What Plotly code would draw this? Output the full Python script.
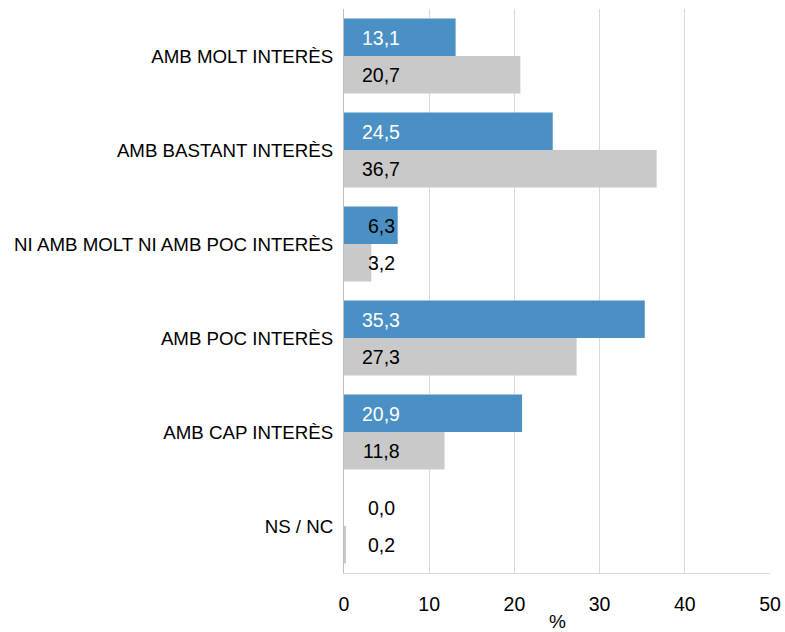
import plotly.graph_objects as go

categories = ["AMB MOLT INTERÈS", "AMB BASTANT INTERÈS", "NI AMB MOLT NI AMB POC INTERÈS",
              "AMB POC INTERÈS", "AMB CAP INTERÈS", "NS / NC"]
series_blue = [13.1, 24.5, 6.3, 35.3, 20.9, 0.0]
series_grey = [20.7, 36.7, 3.2, 27.3, 11.8, 0.2]
x_ticks = [0, 10, 20, 30, 40, 50]
x_title = "%"

BLUE = "#4A90C4"
GREY = "#C9C9C9"
FONT = "Liberation Sans, Arial, sans-serif"

fig = go.Figure()
fig.add_trace(go.Bar(y=categories, x=series_blue, orientation="h", marker_color=BLUE,
                     marker_line_width=0, name="A", hoverinfo="skip"))
fig.add_trace(go.Bar(y=categories, x=series_grey, orientation="h", marker_color=GREY,
                     marker_line_width=0, name="B", hoverinfo="skip"))

def fmt(v):
    return f"{v:.1f}".replace(".", ",")

annotations = []
for cat, vb, vg in zip(categories, series_blue, series_grey):
    annotations.append(dict(x=0, y=cat, xref="x", yref="y", text=fmt(vb), showarrow=False,
                            xanchor="center", xshift=37, yshift=18.5,
                            font=dict(family=FONT, size=19.5, color="white" if vb > 7 else "black")))
    annotations.append(dict(x=0, y=cat, xref="x", yref="y", text=fmt(vg), showarrow=False,
                            xanchor="center", xshift=37, yshift=-18.5,
                            font=dict(family=FONT, size=19.5, color="black")))
annotations.append(dict(x=0.5, y=0, xref="paper", yref="paper", text=x_title, showarrow=False,
                        xanchor="center", yanchor="middle", yshift=-48,
                        font=dict(family=FONT, size=19, color="black")))

fig.update_layout(
    width=785, height=632,
    margin=dict(l=344, r=15, t=9, b=59),
    paper_bgcolor="white", plot_bgcolor="white",
    barmode="group", bargap=0.2, bargroupgap=0,
    showlegend=False,
    font=dict(family=FONT, size=18, color="black"),
    annotations=annotations,
)
fig.update_xaxes(range=[0, 50], tickvals=x_ticks, ticktext=[str(t) for t in x_ticks],
                 showgrid=True, gridcolor="#D9D9D9", gridwidth=1,
                 showline=True, linecolor="#D9D9D9", linewidth=1,
                 zeroline=False, ticks="outside", ticklen=14, tickcolor="rgba(0,0,0,0)",
                 tickfont=dict(family=FONT, size=19.5, color="black"),
                 automargin=False, fixedrange=True)
fig.update_yaxes(autorange="reversed", showgrid=False,
                 showline=True, linecolor="#BFBFBF", linewidth=1,
                 ticks="outside", ticklen=6, tickcolor="rgba(0,0,0,0)",
                 tickfont=dict(family=FONT, size=18.7, color="black"),
                 automargin=False, fixedrange=True)

fig.write_html("out.html", config={"displayModeBar": False},
               post_script="document.body.style.margin='0';document.body.style.overflow='hidden';")
